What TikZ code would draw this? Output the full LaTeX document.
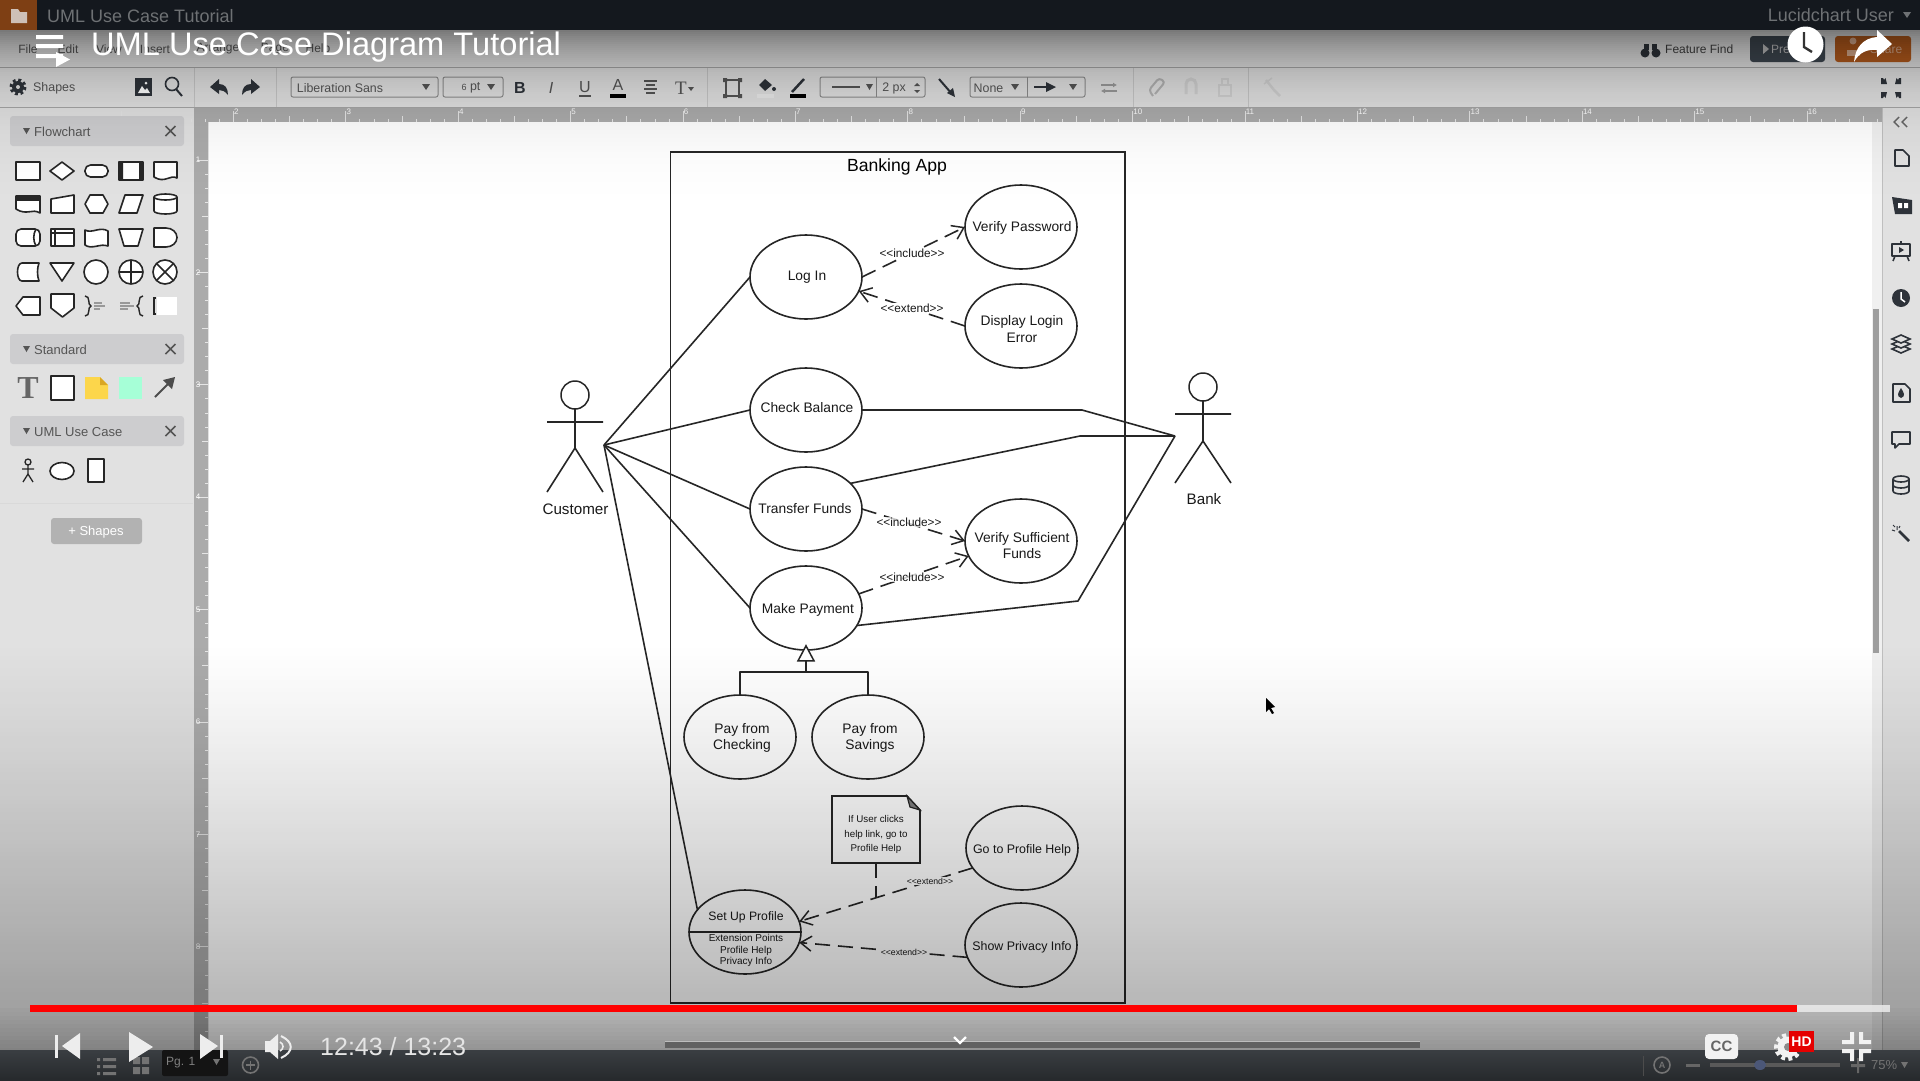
\documentclass[tikz,border=0pt]{standalone}
\usepackage{fontspec}
\setmainfont{Liberation Sans}
\newfontfamily\serifb{Liberation Serif}
\usetikzlibrary{shapes.geometric,arrows.meta,calc}
\definecolor{panelgray}{HTML}{E1E1E1}
\definecolor{headgray}{HTML}{CDCDCF}
\definecolor{rulergray}{HTML}{ABABAB}
\definecolor{inkline}{HTML}{262626}
\definecolor{uitext}{HTML}{555555}
\definecolor{icondark}{HTML}{2E333A}
\definecolor{topbar}{HTML}{14181E}
\definecolor{toptext}{HTML}{6E7174}
\definecolor{orangebtn}{HTML}{B45A1C}
\definecolor{slatebtn}{HTML}{3E4750}
\definecolor{barlight}{HTML}{3A3E42}
\definecolor{bardark}{HTML}{26292C}
\newcommand{\fsz}[2]{\fontsize{#1}{#2}\selectfont}
\newcommand{\gtgt}{>\kern0pt>}
\newcommand{\ltlt}{<\kern0pt<}
\tikzset{
  x=1pt,y=-1pt,
  usecase/.style={ellipse,draw=inkline,fill=white,line width=1.6pt,minimum width=112pt,minimum height=84pt,inner sep=0pt,outer sep=0pt},
  uclabel/.style={align=center,font=\fsz{13.8}{16.5},text=black!90,inner sep=0pt},
  lineconn/.style={draw=inkline,line width=1.6pt,line join=round},
  dashconn/.style={draw=inkline,line width=1.6pt,dash pattern=on 15pt off 8pt},
  openarrow/.style={-{Straight Barb[length=11pt,width=15pt,line width=1.5pt]}},
  deplabel/.style={fill=white,inner sep=0.5pt,font=\fsz{11.8}{14},text=black!90},
  smalllabel/.style={inner sep=0.5pt,fill=white,font=\fsz{8.7}{10},text=black!90},
  actorname/.style={font=\fsz{15.2}{18},text=black!90,inner sep=0pt},
  ico/.style={draw=black!85,line width=1.6pt,fill=white,line join=round},
  ticon/.style={draw=uitext,line width=1.4pt,line join=round},
  dicon/.style={draw=icondark,line width=1.6pt,line join=round},
  phead/.style={fill=headgray,rounded corners=3pt},
  ptext/.style={font=\fsz{13}{15},text=uitext,inner sep=0pt,anchor=west},
  tbtext/.style={font=\fsz{12.4}{14},text=uitext,inner sep=0pt},
  tbbox/.style={draw=black!45,line width=1pt,rounded corners=2pt},
  menutext/.style={font=\fsz{12}{14},text=uitext,inner sep=0pt},
}
\begin{document}
\begin{tikzpicture}
\useasboundingbox (0,0) rectangle (1920,1080);
% ---------- app base
\fill[panelgray] (0,0) rectangle (1920,1080);
\fill[white] (209,122) rectangle (1872,1050);
\fill[black!6] (1872,122) rectangle (1882,1050);
\draw[black!25,line width=1pt] (1882,107) -- (1882,1050);
\fill[black!38] (1873,309) rectangle (1879,653);
% ---------- rulers
\fill[rulergray] (194,107) rectangle (1882,122);
\fill[rulergray] (194,107) rectangle (208,1050);
\foreach \i in {0,...,125}{
  \pgfmathsetmacro\xx{121+\i*14.05}
  \pgfmathtruncatemacro\mm{mod(\i,8)}
  \pgfmathtruncatemacro\hh{mod(\i,4)}
  \pgfmathsetmacro\tl{\mm==0 ? 11 : (\hh==0 ? 6 : 3)}
  \draw[white!90!black,line width=0.8pt] (\xx,122) -- (\xx,122-\tl);
}
\foreach \i in {0,...,66}{
  \pgfmathsetmacro\yy{160+\i*14.05}
  \pgfmathtruncatemacro\mm{mod(\i,8)}
  \pgfmathtruncatemacro\hh{mod(\i,4)}
  \pgfmathsetmacro\tl{\mm==0 ? 11 : (\hh==0 ? 6 : 3)}
  \draw[white!90!black,line width=0.8pt] (208,\yy) -- (208-\tl,\yy);
}
\foreach \n in {2,...,16}{
  \pgfmathsetmacro\xx{233+(\n-2)*112.4}
  \node[font=\fsz{8}{9},text=white,inner sep=0pt,anchor=west] (rulerh\n) at (\xx+1,112) {\n};
}
\foreach \n in {1,...,8}{
  \pgfmathsetmacro\yy{160+(\n-1)*112.4}
  \node[font=\fsz{8}{9},text=white,inner sep=0pt] (rulerv\n) at (198,\yy) {\n};
}
% ---------- menu bar
\foreach \nm/\px/\tx in {m1/28/File,m2/68/Edit,m3/109/View,m4/155/Insert,m5/218/Arrange,m6/275/Page,m7/318/Help}{
  \node[menutext] (\nm) at (\px,49) {\tx};
}
\draw[black!35,line width=1pt] (0,67.5) -- (1920,67.5);
\draw[black!35,line width=1pt] (0,107) -- (1920,107);
% binoculars
\fill[icondark] (1645,53) circle[radius=4.5];
\fill[icondark] (1656,53) circle[radius=4.5];
\fill[icondark] (1644,44) rectangle (1649,50);
\fill[icondark] (1652,44) rectangle (1657,50);
\node[menutext,anchor=west,text=black!75] (featurefind) at (1665,49) {Feature Find};
\fill[slatebtn,rounded corners=3pt] (1750,36) rectangle (1825,62);
\fill[black!25] (1763,44) -- (1763,54) -- (1769,49) -- cycle;
\node[menutext,anchor=west,text=black!25] (present) at (1771,49) {Present};
\fill[orangebtn,rounded corners=3pt] (1835,36) rectangle (1911,62);
\node[menutext,anchor=west,text=orangebtn!50!white] (share) at (1870,49) {Share};
\fill[orangebtn!50!white] (1853,41) circle[radius=3.5];
\fill[orangebtn!50!white] (1847,50) rectangle (1860,56);
% ---------- toolbar
\draw[black!22,line width=1pt] (194,68) -- (194,107) (276,68) -- (276,107) (707,68) -- (707,107) (1133,68) -- (1133,107) (1248,68) -- (1248,107);
% gear
\fill[icondark] (18,87) circle[radius=6];
\draw[icondark,line width=3pt,dash pattern=on 2.8pt off 2.7pt] (18,87) circle[radius=7];
\fill[panelgray] (18,87) circle[radius=2];
\node[tbtext,anchor=west] (shapeslbl) at (33,88) {Shapes};
% image icon
\fill[icondark] (135,78) rectangle (152,96);
\fill[white] (138,93) -- (142,86) -- (145,90) -- (147,88) -- (150,93) -- cycle;
\fill[white] (146,83) circle[radius=1.5];
% search
\draw[icondark,line width=1.6pt] (172,84) circle[radius=6.5];
\draw[icondark,line width=2pt] (176,89) -- (182,96);
% undo redo
\fill[icondark] (210,87) -- (219,79) -- (219,84) .. controls (225,84) and (228,88) .. (228,95) .. controls (225,91) and (222,90) .. (219,90) -- (219,94) -- cycle;
\fill[icondark] (260,87) -- (251,79) -- (251,84) .. controls (245,84) and (242,88) .. (242,95) .. controls (245,91) and (248,90) .. (251,90) -- (251,94) -- cycle;
% font boxes
\draw[tbbox] (291,77) rectangle (438,97);
\node[tbtext] (fontname) at (340,88) {Liberation Sans};
\fill[uitext] (422,84) -- (430,84) -- (426,90) -- cycle;
\draw[tbbox] (443,77) rectangle (503,97);
\node[tbtext] (fontsizeb) at (471,88) {{\fsz{9}{10}6} pt};
\fill[uitext] (487,84) -- (495,84) -- (491,90) -- cycle;
\node[font=\fsz{16}{18}\bfseries,text=icondark,inner sep=0pt] (boldb) at (520,88) {B};
\node[font=\fsz{16}{18}\itshape,text=uitext,inner sep=0pt] (italicb) at (551,88) {I};
\node[font=\fsz{16}{18},text=uitext,inner sep=0pt] (underb) at (585,87) {U};
\draw[uitext,line width=1.2pt] (579,96) -- (591,96);
\node[font=\fsz{16}{18},text=uitext,inner sep=0pt] (colora) at (618,85) {A};
\fill[black] (610,94) rectangle (626,98);
\draw[uitext,line width=1.5pt] (644,81) -- (657,81) (646,85) -- (655,85) (644,89) -- (657,89) (646,93) -- (655,93);
\node[font=\serifb\fsz{19}{19},text=uitext,inner sep=0pt] (fontt) at (681,88) {T};
\fill[uitext] (688,87) -- (694,87) -- (691,91) -- cycle;
% shape icons
\draw[dicon,line width=2pt,draw=uitext] (726,80) rectangle (739,96);
\fill[uitext] (723,78) rectangle (727,82) (738,78) rectangle (742,82) (723,94) rectangle (727,98) (738,94) rectangle (742,98);
\fill[icondark] (759,85) -- (765,79) -- (772,85) -- (765,91) -- cycle;
\fill[icondark] (774,89) circle[radius=2];
\fill[black!8] (757,94) rectangle (774,98);
\draw[dicon,line width=2.5pt] (792,92) -- (804,79);
\fill[black] (790,94) rectangle (806,98);
% line style box
\draw[tbbox] (820,77) rectangle (925,97);
\draw[black!45,line width=1pt] (876,77) -- (876,97);
\draw[uitext,line width=2pt] (832,87) -- (860,87);
\fill[uitext] (866,84) -- (873,84) -- (869.5,90) -- cycle;
\node[tbtext] (pxbox) at (894,88) {2 px};
\fill[uitext] (917,83) -- (920,86) -- (914,86) -- cycle (917,93) -- (920,90) -- (914,90) -- cycle;
\draw[icondark,line width=2pt] (939,79) -- (952,94);
\fill[icondark] (955,97) -- (947,93) -- (953,88) -- cycle;
% none + arrow
\draw[tbbox] (970,77) rectangle (1085,97);
\draw[black!45,line width=1pt] (1027,77) -- (1027,97);
\node[tbtext] (nonelbl) at (988.5,88) {None};
\fill[uitext] (1011,84) -- (1019,84) -- (1015,90) -- cycle;
\draw[icondark,line width=1.8pt] (1034,87) -- (1052,87);
\fill[icondark] (1056,87) -- (1046,82) -- (1046,92) -- cycle;
\fill[uitext] (1069,84) -- (1077,84) -- (1073,90) -- cycle;
\draw[black!40,line width=1.6pt,-{Latex[length=4pt,width=5pt]}] (1101,85) -- (1117,85);
\draw[black!40,line width=1.6pt,-{Latex[length=4pt,width=5pt]}] (1117,91) -- (1101,91);
% faded icons
\draw[black!30,line width=2pt,rounded corners=3pt] (1153,96) -- (1149,90) -- (1159,78) -- (1165,82) -- (1155,94);
\draw[black!18,line width=3pt] (1186,94) -- (1186,84) arc[start angle=180,end angle=360,radius=5] -- (1196,94);
\draw[black!18,line width=1.6pt] (1219,85) rectangle (1231,96);
\draw[black!18,line width=1.6pt] (1222,85) -- (1222,79) -- (1228,79) -- (1228,85);
\draw[black!18,line width=2.5pt] (1266,80) -- (1274,90) -- (1280,96);
\draw[black!18,line width=1.5pt] (1264,84) -- (1272,78);
% expand icon
\foreach \sx/\sy/\cx/\cy in {-1/-1/1887/84,1/-1/1895/84,-1/1/1887/92,1/1/1895/92}{
  \fill[icondark] (\cx,\cy) -- ++(\sx*6,\sy*0) -- ++(0,\sy*6) -- ++(\sx*-2,0) -- ++(\sx*-1,\sy*-2) -- ++(\sx*-1.5,\sy*2) -- cycle;
}
% ---------- left panel
\fill[phead] (10,116) rectangle (184,146);
\fill[phead] (10,334) rectangle (184,364);
\fill[phead] (10,416) rectangle (184,446);
\foreach \nm/\py/\tx in {hflow/131/Flowchart,hstd/349/Standard,huml/431/UML Use Case}{
  \node[ptext] (\nm) at (34,\py+1) {\tx};
  \fill[uitext] (23,\py-3) -- (30,\py-3) -- (26.5,\py+3) -- cycle;
  \draw[uitext,line width=1.5pt] (165.5,\py-5) -- (175.5,\py+5) (165.5,\py+5) -- (175.5,\py-5);
}
\draw[black!15,line width=1pt] (0,503) -- (193,503);
\fill[black!30,rounded corners=3pt] (51,518) rectangle (142,544);
\node[font=\fsz{13}{15},text=white,inner sep=0pt] (plusshapes) at (96,532) {+ Shapes};
% palette row 1
\draw[ico] (16,162) rectangle (40,180);
\draw[ico] (50,171) -- (62,162) -- (74,171) -- (62,180) -- cycle;
\draw[ico,rounded corners=5.5pt] (85,165) rectangle (108,177);
\draw[ico] (119,162) rectangle (143,180);
\fill[black!85] (119,162) rectangle (123,180) (139,162) rectangle (143,180);
\draw[ico] (154,162) -- (177,162) -- (177,178) .. controls (170,174) and (165,184) .. (154,177) -- cycle;
% row 2
\draw[ico] (16,196) -- (40,196) -- (40,213) .. controls (32,208) and (27,216) .. (16,209) -- cycle;
\fill[black!85] (16,196) rectangle (40,201);
\draw[ico] (51,199) -- (74,195) -- (74,213) -- (51,213) -- cycle;
\draw[ico] (85,204) -- (90,195) -- (103,195) -- (108,204) -- (103,213) -- (90,213) -- cycle;
\draw[ico] (119,213) -- (125,195) -- (143,195) -- (137,213) -- cycle;
\draw[ico] (154,197) arc[start angle=180,end angle=360,x radius=11.5,y radius=3] -- (177,211) arc[start angle=0,end angle=180,x radius=11.5,y radius=3] -- cycle;
\draw[black!85,line width=1.6pt] (154,197) arc[start angle=180,end angle=0,x radius=11.5,y radius=3];
% row 3
\draw[ico,rounded corners=5pt] (16,229) rectangle (40,246);
\draw[black!85,line width=1.6pt] (36,229) .. controls (33,234) and (33,241) .. (36,246);
\draw[ico] (51,229) rectangle (74,246);
\draw[black!85,line width=1.6pt] (51,233) -- (74,233) (55,229) -- (55,246);
\draw[ico] (85,230) .. controls (92,234) and (100,226) .. (108,231) -- (108,246) .. controls (100,243) and (92,250) .. (85,245) -- cycle;
\draw[ico] (119,229) -- (143,229) -- (138,246) -- (124,246) -- cycle;
\draw[ico] (154,228) -- (166,228) arc[start angle=-90,end angle=90,x radius=11,y radius=9.5] -- (154,247) -- cycle;
% row 4
\draw[ico] (22,263) -- (39,263) .. controls (37,268) and (37,276) .. (39,281) -- (22,281) .. controls (16,281) and (16,263) .. (22,263) -- cycle;
\draw[ico] (50,263) -- (74,263) -- (62,281) -- cycle;
\draw[ico] (96,272) circle[radius=12];
\draw[ico] (131,272) circle[radius=12];
\draw[black!85,line width=1.6pt] (119,272) -- (143,272) (131,260) -- (131,284);
\draw[ico] (165,272) circle[radius=12];
\draw[black!85,line width=1.6pt] (156.5,263.5) -- (173.5,280.5) (156.5,280.5) -- (173.5,263.5);
% row 5
\draw[ico] (23,297) -- (40,297) -- (40,315) -- (23,315) -- (16,306) -- cycle;
\draw[ico] (51,294) -- (74,294) -- (74,308) -- (62.5,317) -- (51,308) -- cycle;
\draw[black!85,line width=1.4pt] (85,296) .. controls (91,296) and (87,305) .. (91,306) .. controls (87,307) and (91,316) .. (85,316);
\draw[black!40,line width=1.4pt] (94,303) -- (102,303) (94,306) -- (105,306) (94,309) -- (100,309);
\draw[black!85,line width=1.4pt] (143,296) .. controls (137,296) and (141,305) .. (137,306) .. controls (141,307) and (137,316) .. (143,316);
\draw[black!40,line width=1.4pt] (120,303) -- (130,303) (120,306) -- (134,306) (120,309) -- (128,309);
\draw[black!85,line width=1.4pt] (156,298) -- (154,298) -- (154,314) -- (156,314);
\fill[white] (157,297) rectangle (177,315);
% standard row
\node[font=\serifb\bfseries\fsz{32}{32},text=black!60,inner sep=0pt] (stdt) at (28,388) {T};
\draw[ico] (51,376) rectangle (74,400);
\fill[yellow!60!orange!70!white] (85,377) -- (100,377) -- (108,385) -- (108,399) -- (85,399) -- cycle;
\fill[yellow!45!orange!85!black] (100,377) -- (108,385) -- (100,385) -- cycle;
\fill[green!45!cyan!35!white] (119,377) rectangle (142,399);
\draw[black!70,line width=2pt] (155,397) -- (170,382);
\fill[black!70] (175,377) -- (172,389) -- (163,380) -- cycle;
% uml row
\draw[ico,fill=none,line width=1.3pt] (28,462) circle[radius=3];
\draw[black!85,line width=1.3pt] (28,465) -- (28,474) (22,469) -- (34,469) (28,474) -- (23,482) (28,474) -- (33,482);
\draw[ico] (62,471) ellipse[x radius=12,y radius=8.5];
\draw[ico] (88,459) rectangle (104,482);
% ---------- right panel icons
\draw[black!60,line width=1.4pt] (1899,117) -- (1894,122) -- (1899,127) (1907,117) -- (1902,122) -- (1907,127);
\draw[dicon,line width=1.7pt] (1895,150) -- (1903,150) -- (1909,156) -- (1909,166) -- (1895,166) -- cycle;
\fill[icondark] (1892,197) -- (1912,200) -- (1912,214) -- (1895,214) -- cycle;
\fill[white] (1898,203) rectangle (1902,208) (1904,203) rectangle (1908,208);
\draw[dicon] (1892,244) rectangle (1910,256);
\draw[dicon] (1901,241) -- (1901,244) (1895,256) -- (1893,261) (1907,256) -- (1909,261);
\fill[icondark] (1899,247) -- (1899,253) -- (1904,250) -- cycle;
\fill[icondark] (1901,298) circle[radius=9];
\draw[white,line width=1.5pt] (1901,292) -- (1901,299) -- (1905,302);
\foreach \yy in {349,344,339}{
  \draw[icondark,line width=1.6pt,fill=panelgray] (1892,\yy) -- (1901,\yy-4) -- (1910,\yy) -- (1901,\yy+4) -- cycle;
}
\draw[dicon] (1893,384) -- (1905,384) -- (1910,389) -- (1910,402) -- (1893,402) -- cycle;
\fill[icondark] (1901,388) .. controls (1898,393) and (1896,396) .. (1901,398) .. controls (1906,396) and (1904,393) .. (1901,388) -- cycle;
\draw[dicon] (1892,432) -- (1910,432) -- (1910,444) -- (1899,444) -- (1895,448) -- (1895,444) -- (1892,444) -- cycle;
\draw[dicon] (1893,479) arc[start angle=180,end angle=360,x radius=8,y radius=3] -- (1909,491) arc[start angle=0,end angle=180,x radius=8,y radius=3] -- cycle;
\draw[dicon] (1893,479) arc[start angle=180,end angle=0,x radius=8,y radius=3] (1893,485) arc[start angle=180,end angle=0,x radius=8,y radius=3];
\draw[icondark,line width=2.5pt] (1899,531) -- (1909,541);
\draw[icondark,line width=1pt] (1897,526) -- (1897,530) (1892,530) -- (1895,531) (1893,525) -- (1895,527) (1900,526) -- (1899,528);
% ---------- the diagram
\draw[draw=inkline,line width=1.7pt] (670.5,152) rectangle (1125,1003);
\node[font=\fsz{17.6}{20},text=black,inner sep=0pt] (systitle) at (897,166.5) {Banking App};
\node[usecase,label={[uclabel,xshift=1pt]center:Log In}] (login) at (806,277) {};
\node[usecase,label={[uclabel,xshift=1pt,yshift=-1pt]center:Verify Password}] (verifypw) at (1021,227) {};
\node[usecase,label={[uclabel,xshift=1pt,yshift=-3pt]center:Display Login\\Error}] (loginerr) at (1021,326) {};
\node[usecase,label={[uclabel,xshift=1pt,yshift=2pt]center:Check Balance}] (balance) at (806,410) {};
\node[usecase,label={[uclabel,xshift=-1pt]center:Transfer Funds}] (transfer) at (806,509) {};
\node[usecase,label={[uclabel,xshift=1pt,yshift=-4.5pt]center:Verify Sufficient\\Funds}] (sufficient) at (1021,541) {};
\node[usecase,label={[uclabel,xshift=2pt,yshift=-2pt]center:Make Payment}] (payment) at (806,608) {};
\node[usecase,label={[uclabel,xshift=2pt,yshift=-1pt]center:Pay from\\Checking}] (checking) at (740,737) {};
\node[usecase,label={[uclabel,xshift=2pt,yshift=-1pt]center:Pay from\\Savings}] (savings) at (868,737) {};
\node[usecase,label={[uclabel,font=\fsz{12.4}{15},yshift=-2pt]center:Go to Profile Help}] (gohelp) at (1022,848) {};
\node[usecase,label={[uclabel,font=\fsz{12.4}{15},xshift=1pt,yshift=-2pt]center:Show Privacy Info}] (privacy) at (1021,945) {};
\node[usecase] (setup) at (745,932) {};
\draw[lineconn] (setup.west) -- (setup.east);
\node[font=\fsz{12.2}{14},inner sep=0pt,text=black!90] (setuptitle) at (746,917) {Set Up Profile};
\node[font=\fsz{10}{11.2},inner sep=0pt,align=center,text=black!90] (setupext) at (746,950.5) {Extension Points\\Profile Help\\Privacy Info};
% note
\draw[draw=inkline,fill=white,line width=1.6pt] (832,796) -- (907,796) -- (920,810) -- (920,863) -- (832,863) -- cycle;
\draw[draw=inkline,fill=black!50,line width=1.2pt] (907,796) -- (920,810) -- (910,807) -- cycle;
\node[font=\fsz{9.8}{14.6},inner sep=0pt,align=center,text=black!90] (helpnote) at (876,834.5) {If User clicks\\help link, go to\\Profile Help};
\coordinate (notebase) at (876,863);
\coordinate (notejoin) at (876,898);
\draw[dashconn] (notebase) -- (notejoin);
% actors
\node[circle,draw=inkline,fill=white,line width=1.5pt,minimum size=28pt,inner sep=0pt,outer sep=0pt] (custhead) at (575,395) {};
\coordinate (custhip) at (575,448);
\coordinate (custarm1) at (547,422);
\coordinate (custarm2) at (603,422);
\coordinate (custfoot1) at (547,492);
\coordinate (custfoot2) at (603,492);
\coordinate (custhub) at (604,445);
\draw[lineconn] (custhead.south) -- (custhip) (custarm1) -- (custarm2) (custfoot1) -- (custhip) -- (custfoot2);
\node[actorname] (custname) at (575.5,509.5) {Customer};
\node[circle,draw=inkline,fill=white,line width=1.5pt,minimum size=28pt,inner sep=0pt,outer sep=0pt] (bankhead) at (1203,387) {};
\coordinate (bankhip) at (1203,441);
\coordinate (bankarm1) at (1175,414);
\coordinate (bankarm2) at (1231,414);
\coordinate (bankfoot1) at (1175,483);
\coordinate (bankfoot2) at (1231,483);
\coordinate (bankhub) at (1175,436);
\draw[lineconn] (bankhead.south) -- (bankhip) (bankarm1) -- (bankarm2) (bankfoot1) -- (bankhip) -- (bankfoot2);
\node[actorname] (bankname) at (1204,499) {Bank};
% customer associations
\draw[lineconn] (custhub) -- (login.west);
\draw[lineconn] (custhub) -- (balance.west);
\draw[lineconn] (custhub) -- (transfer.west);
\draw[lineconn] (custhub) -- (payment.west);
\draw[lineconn] (custhub) -- (setup.155);
% bank associations
\draw[lineconn] (balance.east) -- (1082,410) -- (bankhub);
\draw[lineconn] (transfer.30) -- (1080,436) -- (bankhub);
\draw[lineconn] (payment.-19) -- (1078,601) -- (bankhub);
% dependencies
\draw[dashconn,openarrow] (login.east) -- (verifypw.west);
\draw[dashconn,openarrow] (loginerr.west) -- (login.-15);
\draw[dashconn,openarrow] (transfer.east) -- (sufficient.west);
\draw[dashconn,openarrow] (payment.15) -- (sufficient.196);
\draw[dashconn,openarrow] (gohelp.202) -- (setup.11);
\draw[dashconn,openarrow] (privacy.193) -- (setup.-11);
\node[deplabel] (lblinc1) at (912,253) {\ltlt include\gtgt};
\node[deplabel] (lblext1) at (912,308) {\ltlt extend\gtgt};
\node[deplabel,fill opacity=0.75,text opacity=1] (lblinc2) at (909,522) {\ltlt include\gtgt};
\node[deplabel,fill opacity=0.75,text opacity=1] (lblinc3) at (912,577) {\ltlt include\gtgt};
\node[smalllabel] (lblext2) at (930,881) {\ltlt extend\gtgt};
\node[smalllabel] (lblext3) at (904,952) {\ltlt extend\gtgt};
% generalization
\node[isosceles triangle,isosceles triangle apex angle=56,shape border rotate=90,draw=inkline,fill=white,line width=1.5pt,minimum height=15pt,inner sep=0pt,outer sep=0pt] (gentip) at (806,656) {};
\coordinate (genjoin) at (806,672);
\draw[lineconn] (gentip.south) -- (genjoin);
\draw[lineconn] (checking.north) -- (740,672) -- (868,672) -- (savings.north);
% cursor
\fill[black] (1266,698) -- (1266,712) -- (1269,709) -- (1272,714) -- (1274,713) -- (1271,708) -- (1275,707) -- cycle;
% ---------- video overlay gradients
\foreach \yy in {30,32,...,200}{
  \pgfmathsetmacro\aa{max(0,0.47*(exp(-(\yy-30)/45)-exp(-170/45)))}
  \fill[black,opacity=\aa] (0,\yy) rectangle (1920,\yy+2);
}
\foreach \yy in {640,644,...,1000}{
  \pgfmathsetmacro\aa{0.28*((\yy-640)/360)^1.15}
  \fill[black,opacity=\aa] (0,\yy) rectangle (1920,\yy+4);
}
\foreach \yy in {1004,1008,...,1048}{
  \pgfmathsetmacro\aa{0.28+0.14*(\yy-1004)/44}
  \fill[black,opacity=\aa] (0,\yy) rectangle (1920,\yy+4);
}
% ---------- top bar
\fill[topbar] (0,0) rectangle (1920,30);
\fill[orangebtn!70!black] (0,0) rectangle (37,30);
\fill[black!50!orangebtn!30!white] (11,9) -- (18,9) -- (20,12) -- (27,12) -- (27,23) -- (11,23) -- cycle;
\node[font=\fsz{18}{20},text=toptext,inner sep=0pt,anchor=west] (videotop) at (47,16) {UML Use Case Tutorial};
\node[font=\fsz{18}{20},text=toptext,inner sep=0pt,anchor=east] (usernm) at (1894,15) {Lucidchart User};
\fill[toptext] (1903,12) -- (1911,12) -- (1907,18) -- cycle;
% ---------- bottom bar
\fill[top color=barlight,bottom color=bardark] (0,1050) rectangle (1920,1080);
\fill[black!92,rounded corners=2pt] (162,1050) rectangle (228,1076);
\node[font=\fsz{12}{14},text=black!50,inner sep=0pt,anchor=west] (pgone) at (166,1063) {Pg. 1};
\fill[black!55] (213,1059) -- (220,1059) -- (216.5,1065) -- cycle;
\fill[black!55] (97,1058) rectangle (100,1061) (103,1058) rectangle (116,1061) (97,1065) rectangle (100,1068) (103,1065) rectangle (116,1068) (97,1072) rectangle (100,1075) (103,1072) rectangle (116,1075);
\fill[black!55] (133,1057) rectangle (140,1064) (142,1057) rectangle (149,1064) (133,1067) rectangle (140,1074) (142,1067) rectangle (149,1074);
\draw[black!55,line width=1.6pt] (250.5,1065) circle[radius=8];
\draw[black!55,line width=1.4pt] (246,1065) -- (255,1065) (250.5,1060.5) -- (250.5,1069.5);
\draw[black!70,line width=1pt] (1643,1056) -- (1643,1076);
\draw[black!55,line width=1.6pt] (1662,1065) circle[radius=8];
\node[font=\fsz{9}{10}\bfseries,text=black!55,inner sep=0pt] (autoa) at (1662,1065.5) {A};
\fill[black!60] (1686,1064) rectangle (1700,1067);
\fill[black!65] (1710,1063) rectangle (1840,1067);
\fill[cyan!40!blue!50!black] (1760,1065) ellipse[x radius=6,y radius=5];
\fill[black!60] (1851,1064) rectangle (1865,1067) (1857,1058) rectangle (1859,1073);
\node[font=\fsz{13}{14},text=black!55,inner sep=0pt,anchor=west] (zoompct) at (1871,1065) {75\%};
\fill[black!55] (1901,1062) -- (1908,1062) -- (1904.5,1068) -- cycle;
% ---------- scrollbar under player
\fill[black!62] (665,1042) rectangle (1420,1048);
\draw[white,opacity=0.35,line width=1pt] (665,1041.5) -- (1420,1041.5);
\draw[white,line width=2.2pt] (954,1037) -- (960,1043) -- (966,1037);
% ---------- player progress
\fill[black!8,opacity=0.85] (1797,1005) rectangle (1890,1012);
\fill[red] (30,1005) rectangle (1797,1012);
% ---------- player controls
\fill[white!93!black] (55,1035) rectangle (58,1058);
\fill[white!93!black] (80,1033) -- (80,1059) -- (62,1046) -- cycle;
\fill[white!93!black] (129,1032) -- (129,1062) -- (153,1047) -- cycle;
\fill[white!93!black] (200,1034) -- (200,1059) -- (218,1046) -- cycle;
\fill[white!93!black] (220,1035) rectangle (223,1058);
\fill[white!93!black] (265,1041) -- (270,1041) -- (278,1034) -- (278,1059) -- (270,1052) -- (265,1052) -- cycle;
\draw[white!93!black,line width=2pt] (281,1036) .. controls (294,1042) and (294,1052) .. (281,1058);
\draw[white!93!black,line width=1.6pt] (280,1042) .. controls (284,1044) and (284,1049) .. (280,1051);
\node[font=\fsz{25}{28},text=white!90!black,inner sep=0pt,anchor=west] (timelbl) at (320,1046.5) {12:43 / 13:23};
\fill[white!95!black,rounded corners=4pt] (1705,1034) rectangle (1738,1059);
\node[font=\fsz{15}{16}\bfseries,text=black!60,inner sep=0pt] (cclbl) at (1721.5,1046.5) {CC};
\fill[white!95!black] (1788,1047) circle[radius=10.5];
\draw[white!95!black,line width=4pt,dash pattern=on 4pt off 3.2pt] (1788,1047) circle[radius=12];
\fill[black!45] (1788,1047) circle[radius=4];
\fill[red!90!black] (1789,1031) rectangle (1814,1052);
\node[font=\fsz{14}{14}\bfseries,text=white,inner sep=0pt] (hdlbl) at (1801.5,1042) {HD};
\foreach \cx/\cy/\sx/\sy in {1854/1044/-1/1,1859/1044/1/1,1854/1049/-1/-1,1859/1049/1/-1}{
  \fill[white!95!black] (\cx,\cy) -- ++(\sx*12,0) -- ++(0,\sy*-4) -- ++(\sx*-8,0) -- ++(0,\sy*-8) -- ++(\sx*-4,0) -- cycle;
}
% ---------- title
\fill[white] (36,35) rectangle (63,39) (36,44) rectangle (63,48) (36,54) rectangle (63,58);
\fill[white] (56,52) -- (56,67) -- (70,59.5) -- cycle;
\node[font=\fsz{32.6}{36},text=white,inner sep=0pt,anchor=west] (vidtitle) at (91,47) {UML Use Case Diagram Tutorial};
% clock and share overlay
\fill[white] (1805.5,44.5) circle[radius=18];
\draw[black!80,line width=2.4pt] (1804,32) -- (1804,47) -- (1812,52);
\fill[white] (1877,30) -- (1892,44) -- (1877,57) -- (1877,50) .. controls (1866,49) and (1859,53) .. (1854,62) .. controls (1855,48) and (1863,38) .. (1877,37) -- cycle;
\end{tikzpicture}
\end{document}
